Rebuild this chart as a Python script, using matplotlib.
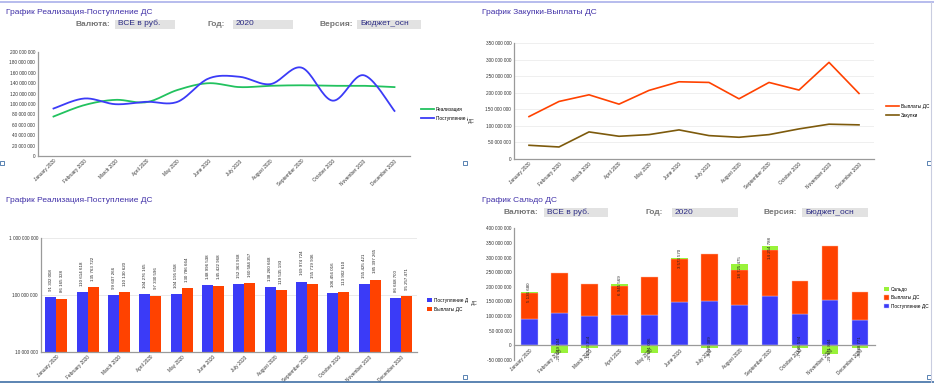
import numpy as np
import matplotlib
matplotlib.use('Agg')
import matplotlib.pyplot as plt
from matplotlib.patches import Rectangle
from matplotlib.lines import Line2D
from matplotlib.transforms import Bbox, TransformedBbox
from matplotlib.ticker import FuncFormatter, NullLocator

# data (rub.)
months = ['January 2020', 'February 2020', 'March 2020', 'April 2020', 'May 2020', 'June 2020',
          'July 2020', 'August 2020', 'September 2020', 'October 2020', 'November 2020', 'December 2020']

realizatsiya = [75_900_000, 98_000_000, 108_000_000, 103_500_000, 127_000_000, 140_000_000,
                132_500_000, 135_000_000, 136_000_000, 135_000_000, 135_000_000, 132_500_000]

postuplenie = [91_302_008, 110_614_618, 99_607_266, 104_276_165, 104_195_658, 148_996_538,
               152_363_968, 138_260_668, 169_974_724, 106_456_016, 155_425_421, 86_668_700]

vyplaty = [86_165_328, 135_763_722, 110_130_620, 97_330_596, 130_786_664, 145_422_968,
           160_584_357, 119_535_193, 155_719_936, 113_902_610, 185_397_265, 95_257_471]

saldo = [5_136_680, -25_149_104, -10_523_354, 6_945_569, -26_591_006, 3_573_570,
         -8_220_389, 18_725_475, 14_254_788, -7_446_594, -29_971_844, -8_588_771]

vyplaty_plan = [128_000_000, 173_600_000, 193_700_000, 165_500_000, 207_000_000, 233_000_000,
                231_000_000, 181_600_000, 231_000_000, 208_000_000, 291_600_000, 197_800_000]

zakupki = [41_400_000, 36_300_000, 81_700_000, 68_600_000, 73_600_000, 87_800_000,
           70_600_000, 65_600_000, 73_600_000, 90_800_000, 105_000_000, 103_000_000]

W, H = 934, 383
C_GREEN = '#22c25f'
C_BLUE = '#3b3bf7'
C_RED = '#ff4200'
C_BROWN = '#7d5a0c'
C_LIME = '#99f23a'
C_TITLE = '#4030a8'
TICK_FS = 3.4

plt.rcParams['font.family'] = ['Liberation Sans', 'DejaVu Sans']

fig = plt.figure(figsize=(W / 100, H / 100), dpi=100)
fig.patch.set_facecolor('white')


def px_axes(l, t, r, b):
    return fig.add_axes([l / W, 1 - b / H, (r - l) / W, (b - t) / H])


def fx(x):
    return x / W


def fy(y):
    return 1 - y / H


def spaced(v, pos=None):
    s = f"{int(round(abs(v))):,}".replace(',', ' ')
    return ('-' if v < 0 else '') + s


def style_axes(ax, zero_axis=False):
    for s in ['top', 'right']:
        ax.spines[s].set_visible(False)
    for s in ['left', 'bottom']:
        ax.spines[s].set_color('#9a9a9a')
        ax.spines[s].set_linewidth(0.9)
    if zero_axis:
        # category axis crosses at zero (resets ticks, so do it first)
        ax.spines['bottom'].set_position(('data', 0))
    ax.tick_params(axis='both', length=0, labelsize=TICK_FS, pad=2, colors='#333333')
    ax.set_xticks(range(len(months)))
    ax.set_xticklabels(months, rotation=45, ha='right', rotation_mode='anchor')
    ax.set_xlim(-0.5, len(months) - 0.5)
    ax.yaxis.set_major_formatter(FuncFormatter(spaced))


def smooth(xs, ys, n=20):
    # Bezier smoothing like the spreadsheet "smoothed line"
    xs = np.asarray(xs, float)
    ys = np.asarray(ys, float)
    px = np.concatenate([[xs[0]], xs, [xs[-1]]])
    py = np.concatenate([[ys[0]], ys, [ys[-1]]])
    t = np.linspace(0, 1, n, endpoint=False)
    ox, oy = [], []
    for i in range(1, len(px) - 2):
        for p, out in ((px, ox), (py, oy)):
            p0, p1, p2, p3 = p[i - 1], p[i], p[i + 1], p[i + 2]
            c1 = p1 + (p2 - p0) / 6
            c2 = p2 - (p3 - p1) / 6
            out.extend((1 - t) ** 3 * p1 + 3 * (1 - t) ** 2 * t * c1 + 3 * (1 - t) * t ** 2 * c2 + t ** 3 * p2)
    ox.append(xs[-1])
    oy.append(ys[-1])
    return ox, oy


def filters(y, xs):
    labels = ['Валюта:', 'Год:', 'Версия:']
    values = ['ВСЕ в руб.', '2020', 'Бюджет_осн']
    for (lx, bx0, bx1), lab, val in zip(xs, labels, values):
        fig.text(fx(lx), fy(y), lab, fontsize=6, fontweight='bold', color='#757575', va='center')
        fig.patches.append(Rectangle((fx(bx0), fy(y + 4.5)), fx(bx1 - bx0), 9 / H,
                                     transform=fig.transFigure, facecolor='#e2e2e2', edgecolor='none'))
        fig.text(fx(bx0 + 3), fy(y - 0.5), val, fontsize=6, color='#2c2c84', va='center')


def clip_legend(leg, right_px):
    # panel edge cuts the legend text like in the dashboard
    box = TransformedBbox(Bbox([[0, 0], [fx(right_px), 1]]), fig.transFigure)
    for t in leg.get_texts():
        t.set_clip_box(box)
        t.set_clip_on(True)


# frame lines
fig.add_artist(Line2D([0, 1], [fy(2), fy(2)], color='#aab0ea', lw=1.2))
fig.add_artist(Line2D([0, 1], [fy(381.5), fy(381.5)], color='#3f6fa6', lw=1.2))
fig.add_artist(Line2D([fx(930.5), fx(930.5)], [fy(2), fy(381.5)], color='#c9cde0', lw=0.8))
for hx, hy in [(2, 163), (465, 163), (929, 163), (465, 377), (929, 377)]:
    fig.patches.append(Rectangle((fx(hx - 2), fy(hy + 2)), fx(4), 4 / H, transform=fig.transFigure,
                                 facecolor='white', edgecolor='#3f6fa6', lw=0.6))

# titles
fig.text(fx(6), fy(12.5), 'График Реализация-Поступление ДС', fontsize=6, color=C_TITLE, va='center')
fig.text(fx(482), fy(12.5), 'График Закупки-Выплаты ДС', fontsize=6, color=C_TITLE, va='center')
fig.text(fx(6), fy(200.5), 'График Реализация-Поступление ДС', fontsize=6, color=C_TITLE, va='center')
fig.text(fx(482), fy(200.5), 'График Сальдо ДС', fontsize=6, color=C_TITLE, va='center')

filters(24, [(75, 115, 175), (208, 233, 293), (319, 357, 421)])
filters(212.5, [(504, 544, 608), (646, 672, 738), (764, 802, 868)])

x = np.arange(len(months))

# top-left: smoothed lines
ax1 = px_axes(38, 52, 410, 156)
style_axes(ax1)
sx, sy = smooth(x, realizatsiya)
ax1.plot(sx, sy, color=C_GREEN, lw=1.3, label='Реализация')
sx, sy = smooth(x, postuplenie)
ax1.plot(sx, sy, color=C_BLUE, lw=1.3, label='Поступление ДС')
ax1.set_ylim(0, 200_000_000)
ax1.set_yticks(np.arange(0, 200_000_001, 20_000_000))
leg1 = ax1.legend(loc='upper left', bbox_to_anchor=(fx(421), fy(107)), bbox_transform=fig.transFigure,
                  frameon=False, fontsize=TICK_FS, handlelength=2.8, handletextpad=0.4, labelspacing=0.85,
                  borderpad=0, borderaxespad=0)
clip_legend(leg1, 468)

# top-right: straight lines
ax2 = px_axes(514, 43, 874, 159)
style_axes(ax2)
ax2.yaxis.grid(True, color='#ececec', lw=0.6)
ax2.set_axisbelow(True)
ax2.plot(x, vyplaty_plan, color=C_RED, lw=1.2, label='Выплаты ДС')
ax2.plot(x, zakupki, color=C_BROWN, lw=1.2, label='Закупки')
ax2.set_ylim(0, 350_000_000)
ax2.set_yticks(np.arange(0, 350_000_001, 50_000_000))
fig.text(fx(468), fy(122), 'ДС', fontsize=TICK_FS, color='#333333', va='center')
ax2.legend(loc='upper left', bbox_to_anchor=(fx(886), fy(104)), bbox_transform=fig.transFigure,
           frameon=False, fontsize=TICK_FS, handlelength=2.8, handletextpad=0.4, labelspacing=0.85,
           borderpad=0, borderaxespad=0)

# bottom-left: grouped bars, log scale
ax3 = px_axes(40.7, 237.7, 416.7, 352)
style_axes(ax3)
ax3.set_yscale('log')
ax3.set_ylim(10_000_000, 1_000_000_000)
ax3.set_yticks([10_000_000, 100_000_000, 1_000_000_000])
ax3.yaxis.set_major_formatter(FuncFormatter(spaced))
ax3.yaxis.set_minor_locator(NullLocator())
ax3.yaxis.grid(True, color='#e6e6e6', lw=0.6)
ax3.set_axisbelow(True)
bw = 0.35
b1 = ax3.bar(x - bw / 2, postuplenie, bw, color=C_BLUE, label='Поступление ДС')
b2 = ax3.bar(x + bw / 2, vyplaty, bw, color=C_RED, label='Выплаты ДС')
for bars in (b1, b2):
    for r in bars:
        ax3.annotate(spaced(r.get_height()), (r.get_x() + r.get_width() / 2, r.get_height()),
                     xytext=(0, 4.5), textcoords='offset points', rotation=90,
                     ha='center', va='bottom', fontsize=3.2, color='#222222')
leg3 = ax3.legend(loc='upper left', bbox_to_anchor=(fx(427), fy(298)), bbox_transform=fig.transFigure,
                  frameon=False, fontsize=TICK_FS, handlelength=1.0, handleheight=1.0, handletextpad=0.5,
                  labelspacing=0.75, borderpad=0, borderaxespad=0)
clip_legend(leg3, 468)

# bottom-right: stacked bars with saldo
ax4 = px_axes(514.3, 228.3, 875, 360)
style_axes(ax4, zero_axis=True)
ax4.set_ylim(-50_000_000, 400_000_000)
ax4.set_yticks(np.arange(-50_000_000, 400_000_001, 50_000_000))
sw = 0.55
post = np.array(postuplenie, float)
vyp = np.array(vyplaty, float)
sal = np.array(saldo, float)
ax4.bar(x, post, sw, color=C_BLUE, edgecolor='#c8c8ff', lw=0.3, label='Поступление ДС')
ax4.bar(x, vyp, sw, bottom=post, color=C_RED, edgecolor='#ffb8a0', lw=0.3, label='Выплаты ДС')
sal_bottom = np.where(sal > 0, post + vyp, 0)
ax4.bar(x, sal, sw, bottom=sal_bottom, color=C_LIME, label='Сальдо', zorder=1.5)
for xi, b, s in zip(x, sal_bottom, sal):
    ax4.text(xi, b + s / 2, spaced(s), rotation=90, ha='center', va='center', fontsize=3.2,
             color='#222222', zorder=4)
fig.text(fx(471), fy(303), 'ДС', fontsize=TICK_FS, color='#333333', va='center')
h, l = ax4.get_legend_handles_labels()
ax4.legend(h[::-1], l[::-1], loc='upper left', bbox_to_anchor=(fx(884), fy(286.5)),
           bbox_transform=fig.transFigure, frameon=False, fontsize=TICK_FS, handlelength=1.0,
           handleheight=1.0, handletextpad=0.5, labelspacing=0.75, borderpad=0, borderaxespad=0)

fig.savefig('out.png', dpi=100, facecolor='white')
